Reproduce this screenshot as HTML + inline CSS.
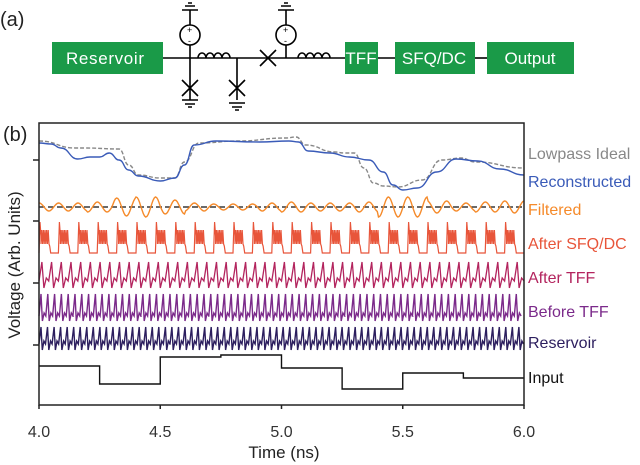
<!DOCTYPE html>
<html><head><meta charset="utf-8"><style>
body{margin:0;background:#fff;width:640px;height:465px;overflow:hidden}
svg{display:block;font-family:"Liberation Sans",sans-serif}
</style></head><body>
<svg id="fig" width="640" height="465" viewBox="0 0 640 465">
<g stroke="#000" stroke-width="1.6" fill="none">
<text x="0" y="26" font-size="20" stroke="none" fill="#222">(a)</text>
<line x1="163" y1="58" x2="345" y2="58"/>
<line x1="378" y1="58" x2="395" y2="58"/>
<line x1="475" y1="58" x2="487" y2="58"/>
<path d="M190 58 V45 M190 25 V10 M182 10 H198 M185 6 H195 M188 3 H192"/>
<circle cx="190" cy="35" r="10"/>
<path d="M190 58 V100 M182 80 L198 96 M198 80 L182 96 M182 100 H198 M185 104 H195 M188 107 H192"/>
<path d="M198 58 a4 5 0 0 1 8 0 a4 5 0 0 1 8 0 a4 5 0 0 1 8 0 a4 5 0 0 1 8 0"/>
<path d="M237 58 V100 M229 80 L245 96 M245 80 L229 96 M229 103 H245 M232 107 H242 M235 110 H239"/>
<path d="M260 50 L276 66 M260 66 L276 50"/>
<path d="M286 58 V45 M286 25 V10 M278 10 H294 M281 6 H291 M284 3 H288"/>
<circle cx="286" cy="35" r="10"/>
<path d="M298 58 a4 5 0 0 1 8 0 a4 5 0 0 1 8 0 a4 5 0 0 1 8 0 a4 5 0 0 1 8 0"/>
<g stroke="none" fill="#000" font-size="9"><text x="187" y="33">+</text><text x="188" y="44">-</text><text x="283" y="33">+</text><text x="284" y="44">-</text></g>
<g stroke="none">
<rect x="52" y="42" width="111" height="32" fill="#1a9a48"/>
<rect x="345" y="42" width="33" height="32" fill="#1a9a48"/>
<rect x="395" y="42" width="80" height="32" fill="#1a9a48"/>
<rect x="487" y="42" width="87" height="32" fill="#1a9a48"/>
<g fill="#fff" font-size="17" text-anchor="middle">
<text x="105" y="64" textLength="78">Reservoir</text><text x="361" y="64">TFF</text><text x="434" y="64">SFQ/DC</text><text x="530" y="64">Output</text></g>
</g>
</g>
<text x="3" y="141" font-size="20" fill="#222">(b)</text>
<text transform="translate(20,265) rotate(-90)" font-size="17" fill="#222" text-anchor="middle">Voltage (Arb. Units)</text>
<text x="284" y="458" font-size="17" fill="#222" text-anchor="middle">Time (ns)</text>
<g id="plot"></g>
<rect x="39" y="123" width="485" height="282" fill="none" stroke="#222" stroke-width="1.5"/>
</svg>
<script>
const xTicks=[4.0,4.5,5.0,5.5,6.0];
const yTickPx=[160,221,283,345];
const inputTimes=[4.0,4.25,4.5,4.75,5.0,5.25,5.5,5.75,6.0];
const inputLevels=[366,384,357,355,368,389,373,378];
const lowpassT=[4.0,4.15,4.19,4.33,4.37,4.41,4.5,4.56,4.6,4.66,4.82,5.02,5.06,5.1,5.22,5.26,5.3,5.34,5.38,5.42,5.48,5.58,5.66,5.74,5.8,6.0];
const lowpassV=[141,148,148,149,165,175,178,178,162,143,141,138,137,145,152,153,153,168,183,186,187,180,160,158,162,168];
const reconT=[4.0,4.05,4.09,4.16,4.21,4.25,4.29,4.33,4.37,4.41,4.5,4.56,4.6,4.64,4.73,4.91,5.03,5.07,5.11,5.2,5.28,5.36,5.42,5.46,5.5,5.56,5.64,5.72,5.81,5.9,6.0];
const reconV=[143,144,148,159,157,157,153,160,170,176,181,178,165,145,141,142,141,142,151,153,157,160,172,185,190,188,172,159,161,169,175];
const filtAmp=[4,4,5,9,10,7,4,3,3,4,5,4,4,5,10,10,6,4,5,6];
const seriesNames=["Lowpass Ideal","Reconstructed","Filtered","After SFQ/DC","After TFF","Before TFF","Reservoir","Input"];
const seriesColors=["#888","#3a5bb8","#f58a2a","#e8553a","#b3245e","#7b2a8a","#2c1e5e","#111"];
const labelY=[153,181,209,243,277,311,342,377];
const X0=39,X1=524;
const xs=t=>X0+(t-4)/2*(X1-X0);
const g=document.getElementById('plot');
const NS='http://www.w3.org/2000/svg';
function mk(tag,at,parent){const e=document.createElementNS(NS,tag);for(const k in at)e.setAttribute(k,at[k]);(parent||g).appendChild(e);return e;}
xTicks.forEach(t=>{const l=mk('line',{x1:xs(t),x2:xs(t),y1:405,y2:409,stroke:'#222','stroke-width':1.5});


const tx=mk('text',{x:xs(t),y:437,'font-size':16,fill:'#333','text-anchor':'middle'});tx.textContent=t.toFixed(1);

});
yTickPx.forEach(y=>{const l=mk('line',{x1:33,x2:39,y1:y,y2:y,stroke:'#222','stroke-width':1.5});

});
function smooth(T,V){let d='M'+xs(T[0]).toFixed(1)+' '+V[0];for(let i=1;i<T.length;i++){const mx=(xs(T[i-1])+xs(T[i]))/2;d+='C'+mx.toFixed(1)+' '+V[i-1]+' '+mx.toFixed(1)+' '+V[i]+' '+xs(T[i]).toFixed(1)+' '+V[i];}return d;}
let d='';inputLevels.forEach((v,i)=>{d+=(i?'L':'M')+xs(inputTimes[i])+' '+v+'L'+xs(inputTimes[i+1])+' '+v;});
let p=mk('path',{d:d,fill:'none',stroke:seriesColors[7],'stroke-width':1.4});


p=mk('path',{d:smooth(lowpassT,lowpassV),fill:'none',stroke:seriesColors[0],'stroke-width':1.4,'stroke-dasharray':'4 2'});


p=mk('path',{d:smooth(reconT,reconV),fill:'none',stroke:seriesColors[1],'stroke-width':1.4});


p=mk('line',{x1:X0,x2:X1,y1:207,y2:207,stroke:'#111','stroke-width':1.2,'stroke-dasharray':'6 3'});


d='';for(let i=0;i<=400;i++){const t=4+i/200;const a=filtAmp[Math.min(19,Math.floor((t-4)*10))];d+=(i?'L':'M')+xs(t).toFixed(1)+' '+(207-a*Math.sin((t-4)/0.08*2*Math.PI+1.5)).toFixed(1);}
p=mk('path',{d:d,fill:'none',stroke:seriesColors[2],'stroke-width':1.4});


d='';const per=0.08;for(let k=0;k<25;k++){const s=4+k*per;const a=xs(s),b=xs(s+per*0.55),c=xs(s+per);
d+=(k?'L':'M')+a.toFixed(1)+' 253L'+(a+1).toFixed(1)+' 222L'+(a+2).toFixed(1)+' 236';let j=0;for(let q=a+2;q<b;q+=0.8){d+='L'+q.toFixed(1)+' '+(j%2?230:244);j++;}d+='L'+b.toFixed(1)+' 246L'+(b+1).toFixed(1)+' 253L'+c.toFixed(1)+' 253';}
p=mk('path',{d:d,fill:'none',stroke:seriesColors[3],'stroke-width':1.2});


function spikes(period,base,peak,low,name,col,w){let d='';let n=Math.round(2/period);for(let k=0;k<n;k++){const a=xs(4+k*period),st=(X1-X0)*period/2;
d+=(k?'L':'M')+a.toFixed(1)+' '+base+'L'+(a+st*0.3).toFixed(1)+' '+peak+'L'+(a+st*0.5).toFixed(1)+' '+low+'L'+(a+st*0.75).toFixed(1)+' '+(base-3)+'L'+(a+st).toFixed(1)+' '+base;}
const p=mk('path',{d:d,fill:'none',stroke:col,'stroke-width':w});

}
spikes(0.04,281,262,288,'after-tff-series',seriesColors[4],1.3);
spikes(0.028,316,294,321,'before-tff-series',seriesColors[5],1.4);
spikes(0.027,344,327,350,'reservoir-series',seriesColors[6],1.4);
seriesNames.forEach((n,i)=>{const t=mk('text',{x:528,y:labelY[i]+6,'font-size':16,fill:seriesColors[i]});t.textContent=n;

});
</script>
</body></html>
